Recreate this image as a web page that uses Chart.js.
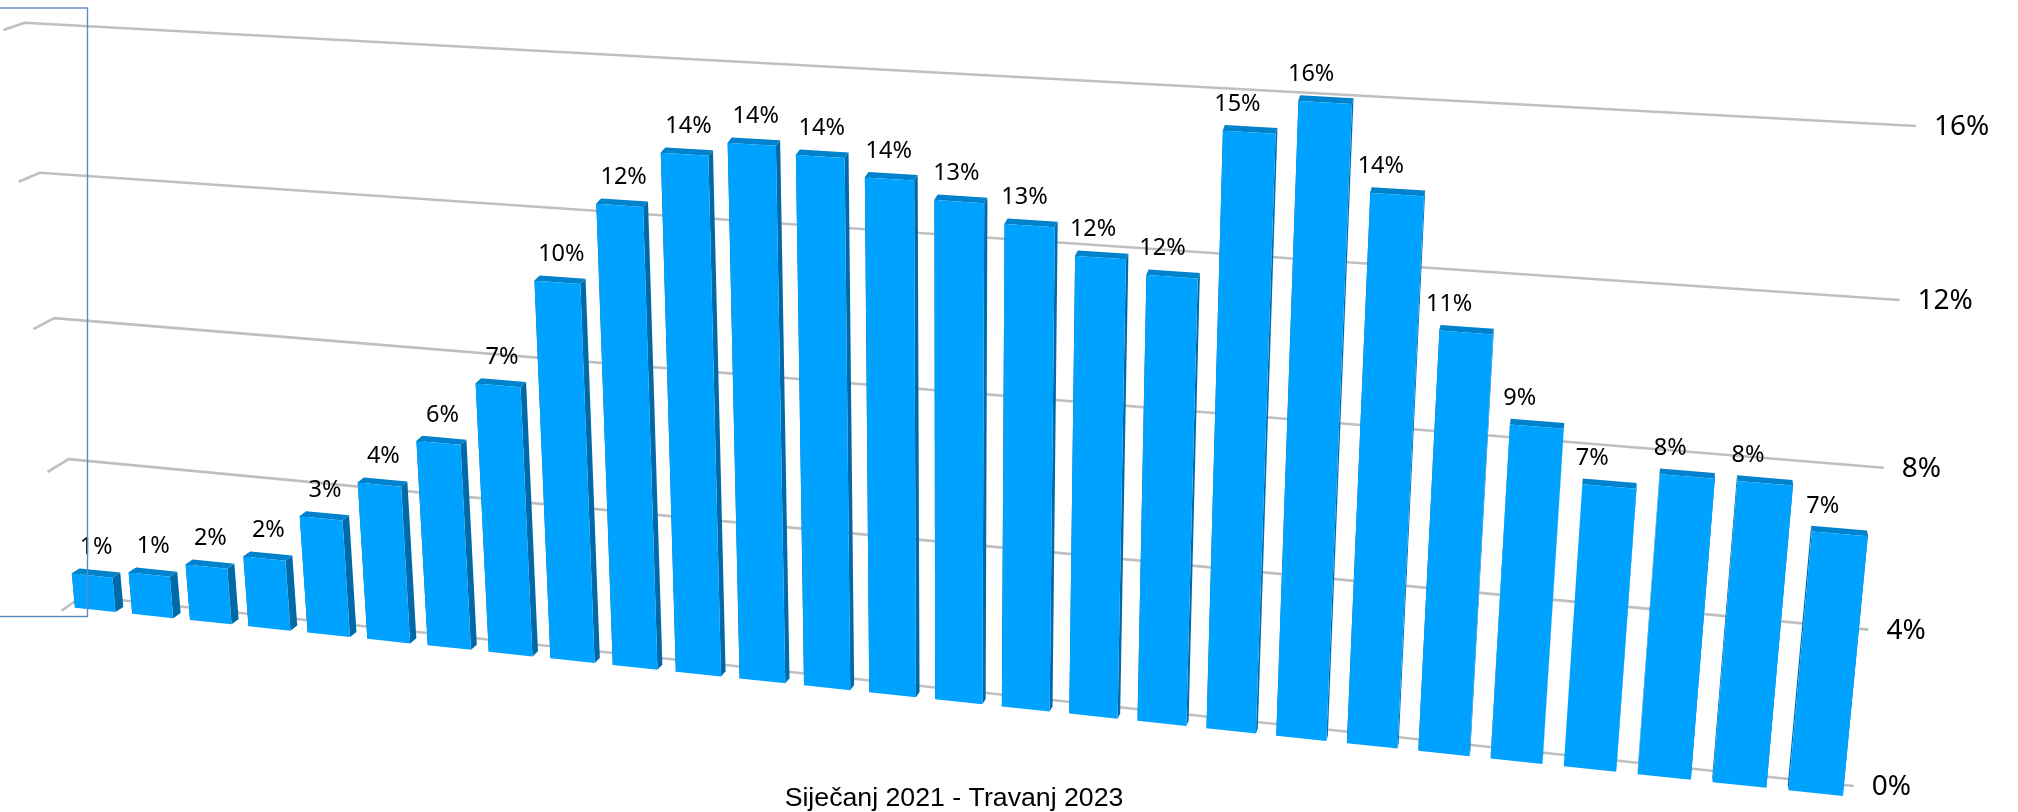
<!DOCTYPE html>
<html>
<head>
<meta charset="utf-8">
<title>Siječanj 2021 - Travanj 2023</title>
<script src="https://cdn.jsdelivr.net/npm/chart.js@4/dist/chart.umd.js"></script>
<style>
    html, body { margin: 0; padding: 0; background: #fff; }
    #wrap { position: relative; width: 2018px; height: 812px; overflow: hidden; }
</style>
</head>
<body>
<div id="wrap"><canvas id="graph"></canvas></div>
<script>
// one bar per month, the picture has 27 of them
const months = ['2021-01','2021-02','2021-03','2021-04','2021-05','2021-06','2021-07','2021-08','2021-09','2021-10','2021-11','2021-12',
    '2022-01','2022-02','2022-03','2022-04','2022-05','2022-06','2022-07','2022-08','2022-09','2022-10','2022-11','2022-12',
    '2023-01','2023-02','2023-03'];
const shares = [1.0,1.2,1.6,2.0,3.3,4.4,5.7,7.4,10.25,12.35,13.75,14.1,13.9,13.45,13.0,12.52,11.85,11.5,15.1,15.9,13.83,10.65,8.5,7.18,7.58,7.57,6.5];
// labels as printed in the picture
const shareLabels = ['1%','1%','2%','2%','3%','4%','6%','7%','10%','12%','14%','14%','14%','14%','13%','13%','12%','12%','15%','16%','14%','11%','9%','7%','8%','8%','7%'];
const yTicks = [0,4,8,12,16];
const xTitle = 'Siječanj 2021 - Travanj 2023';

// camera: where the corners of each plane land on the page (bl, br, tr, tl)
const frontPlane = [[66.7,606.8],[1854,797.2],[1919,130],[12.8,27.8]];
const backPlane = [[74.7,601.8],[1853,791.7],[1918,124],[20.8,22.6]];
const wallPlane = [[82.5,596],[1853.7,786],[1916,126],[24.5,22.8]];

let area = {left:0, right:1, top:0, bottom:1};

// maps chart pixels onto a quad, plain square to quad homography
function project(q, x, y) {
    let s = (x - area.left) / (area.right - area.left);
    let t = (area.bottom - y) / (area.bottom - area.top);
    let [p0,p1,p2,p3] = q;
    let dx1 = p1[0]-p2[0], dx2 = p3[0]-p2[0], sx = p0[0]-p1[0]+p2[0]-p3[0];
    let dy1 = p1[1]-p2[1], dy2 = p3[1]-p2[1], sy = p0[1]-p1[1]+p2[1]-p3[1];
    let den = dx1*dy2 - dx2*dy1;
    let g = (sx*dy2 - dx2*sy) / den;
    let h = (dx1*sy - sx*dy1) / den;
    let w = g*s + h*t + 1;
    return [((p1[0]-p0[0]+g*p1[0])*s + (p3[0]-p0[0]+h*p3[0])*t + p0[0]) / w,
            ((p1[1]-p0[1]+g*p1[1])*s + (p3[1]-p0[1]+h*p3[1])*t + p0[1]) / w];
}

function poly(ctx, pts, color) {
    ctx.beginPath();
    pts.forEach((p, i) => i ? ctx.lineTo(p[0], p[1]) : ctx.moveTo(p[0], p[1]));
    ctx.closePath();
    ctx.fillStyle = color;
    ctx.fill();
}

// bars stay normal chart elements, they only get drawn as boxes through the camera
Chart.BarElement.prototype.draw = function(ctx) {
    let {x, y, base, width} = this.getProps(['x','y','base','width']);
    let l = x - width/2, r = x + width/2;
    let f = (a, b) => project(frontPlane, a, b);
    let k = (a, b) => project(backPlane, a, b);
    poly(ctx, [k(l,base), k(l,y), f(l,y), f(l,base)], '#0069A8');
    poly(ctx, [f(r,base), f(r,y), k(r,y), k(r,base)], '#0069A8');
    poly(ctx, [f(l,y), k(l,y), k(r,y), f(r,y)], '#0082CC');
    poly(ctx, [f(l,base), f(l,y), f(r,y), f(r,base)], '#00A2FF');
};

const wall3d = {
    id: 'wall3d',
    beforeDatasetsDraw(chart) {
        let ctx = chart.ctx, yScale = chart.scales.y;
        area = chart.chartArea;
        ctx.save();
        ctx.strokeStyle = '#BFBFBF';
        ctx.lineWidth = 2.6;
        yScale.ticks.forEach(tick => {
            let py = yScale.getPixelForValue(tick.value);
            let a = project(wallPlane, area.left, py);
            let b = project(wallPlane, area.right, py);
            let drop = 14.7 - 7.5 * tick.value / 16;
            ctx.beginPath();
            ctx.moveTo(a[0] - 21, a[1] + drop);
            ctx.lineTo(a[0], a[1]);
            ctx.lineTo(b[0], b[1]);
            ctx.stroke();
        });
        ctx.restore();
    },
    afterDatasetsDraw(chart) {
        let ctx = chart.ctx, yScale = chart.scales.y;
        ctx.save();
        ctx.fillStyle = '#000';
        ctx.textBaseline = 'middle';

        // tick labels at the right end of the grid lines
        ctx.textAlign = 'left';
        ctx.font = '28px "Noto Sans"';
        yScale.ticks.forEach(tick => {
            let b = project(wallPlane, area.right, yScale.getPixelForValue(tick.value));
            ctx.fillText(tick.value + '%', b[0] + 18, b[1] + 1);
        });

        // value labels, they drift left of the bars towards the right side
        ctx.textAlign = 'center';
        ctx.font = '23.5px "Noto Sans"';
        chart.getDatasetMeta(0).data.forEach((bar, i) => {
            let u = i / months.length;
            let off = u < 0.42 ? 4 : Math.max(-17, 3 - (u - 0.42) * 60);
            let p = project(frontPlane, bar.x, bar.y);
            ctx.fillText(shareLabels[i], p[0] + off, p[1] - 28);
        });
        ctx.restore();
    },
    afterDraw(chart) {
        // stray selection frame top left
        let ctx = chart.ctx;
        ctx.save();
        ctx.strokeStyle = '#5A8AC0';
        ctx.lineWidth = 1.4;
        ctx.strokeRect(-2, 8, 89.5, 608.5);
        ctx.restore();
    }
};

new Chart(document.getElementById('graph'), {
    type: 'bar',
    data: {
        labels: months,
        datasets: [{
            label: 'Udio',
            data: shares,
            backgroundColor: '#00A2FF',
            barPercentage: 0.71,
            categoryPercentage: 1,
            clip: false
        }]
    },
    options: {
        responsive: true,
        maintainAspectRatio: false,
        animation: false,
        events: [],
        layout: { padding: { right: 110 } },
        scales: {
            x: { display: false },
            y: {
                display: false,
                min: 0,
                max: 16,
                afterBuildTicks: s => { s.ticks = yTicks.map(v => ({value: v})); }
            }
        },
        plugins: {
            legend: { display: false },
            tooltip: { enabled: false },
            title: {
                display: true,
                position: 'bottom',
                fullSize: false,
                text: xTitle,
                color: '#000',
                font: { family: '"Liberation Sans"', size: 26.7, weight: 'normal' },
                padding: { top: 3, bottom: -3 }
            }
        }
    },
    plugins: [wall3d]
});
</script>
</body>
</html>
